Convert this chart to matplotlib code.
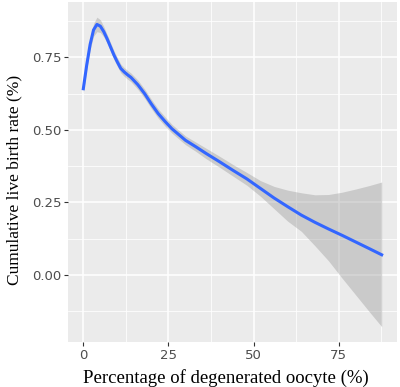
import numpy as np
import matplotlib.pyplot as plt

# smoothed fit with its confidence band
x = [0, 1, 2, 3, 4, 5, 6, 7, 8, 9, 10, 11, 12, 13, 14, 16, 18, 20, 22, 24, 26, 28, 30,
     33, 36, 40, 44, 48, 52, 56, 60, 64, 68, 72, 76, 80, 84, 87.6]
fit = [0.642, 0.724, 0.795, 0.845, 0.864, 0.858, 0.839, 0.814, 0.786, 0.758, 0.734, 0.712,
       0.700, 0.690, 0.681, 0.656, 0.625, 0.589, 0.556, 0.529, 0.504, 0.484, 0.464,
       0.442, 0.419, 0.390, 0.360, 0.331, 0.298, 0.265, 0.235, 0.206, 0.181, 0.158,
       0.136, 0.113, 0.090, 0.069]
upper = [0.657, 0.739, 0.813, 0.867, 0.889, 0.880, 0.857, 0.829, 0.801, 0.773, 0.749, 0.727,
         0.715, 0.705, 0.696, 0.672, 0.641, 0.605, 0.572, 0.545, 0.519, 0.499, 0.479,
         0.458, 0.437, 0.409, 0.380, 0.353, 0.325, 0.305, 0.292, 0.283, 0.276, 0.277,
         0.285, 0.296, 0.308, 0.320]
lower = [0.627, 0.709, 0.777, 0.823, 0.839, 0.836, 0.821, 0.799, 0.771, 0.743, 0.719, 0.697,
         0.685, 0.675, 0.666, 0.640, 0.609, 0.573, 0.540, 0.513, 0.489, 0.469, 0.449,
         0.426, 0.401, 0.371, 0.340, 0.309, 0.271, 0.228, 0.185, 0.150, 0.100, 0.048,
         -0.012, -0.070, -0.128, -0.179]

xticks = [0, 25, 50, 75]
yticks = [0.00, 0.25, 0.50, 0.75]

fig = plt.figure(figsize=(4, 3.87), dpi=100)
ax = fig.add_axes([0.171, 0.116, 0.8205, 0.8796])
ax.set_facecolor('#EBEBEB')

# ggplot style limits (5% padding)
xmin, xmax = 0, 87.6
ymin, ymax = min(lower), max(upper)
xpad = (xmax - xmin) * 0.05
ypad = (ymax - ymin) * 0.05
ax.set_xlim(xmin - xpad, xmax + xpad)
ax.set_ylim(ymin - ypad, ymax + ypad)

# grid: minor lines between the majors
for v in np.arange(-12.5, 100, 12.5):
    major = v % 25 == 0
    ax.axvline(v, color='white', lw=1.1 if major else 0.55, zorder=0)
for v in np.arange(-0.125, 1.0, 0.125):
    major = abs(v / 0.25 - round(v / 0.25)) < 1e-9
    ax.axhline(v, color='white', lw=1.1 if major else 0.55, zorder=0)

ax.fill_between(x, lower, upper, color='#999999', alpha=0.4, lw=0, zorder=1)
ax.plot(x, fit, color='#3366FF', lw=2.2, zorder=2)

ax.set_xticks(xticks)
ax.set_xticklabels([str(t) for t in xticks])
ax.set_yticks(yticks)
ax.set_yticklabels(['%.2f' % t for t in yticks])
ax.tick_params(length=3, width=0.8, color='#333333', labelcolor='#4D4D4D',
               labelsize=9.5, pad=2)
for s in ax.spines.values():
    s.set_visible(False)

ax.set_xlabel('Percentage of degenerated oocyte (%)', family='Liberation Serif',
              fontsize=13.5, va='baseline')
ax.xaxis.set_label_coords(0.48, -0.1196)
ax.set_ylabel('Cumulative live birth rate (%)', family='Liberation Serif',
              fontsize=12.5, va='center', ha='center')
ax.yaxis.set_label_coords(-0.164, 0.476)

fig.savefig('out.png', dpi=100)
